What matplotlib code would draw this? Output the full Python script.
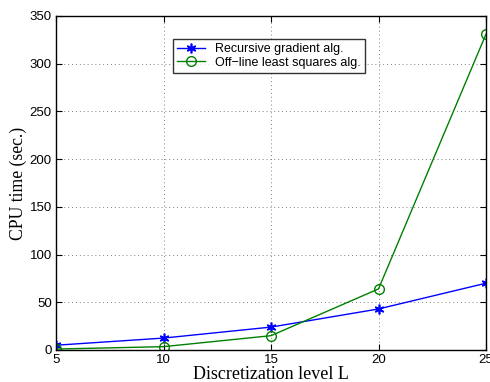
import matplotlib
matplotlib.use("Agg")
import matplotlib.pyplot as plt

L = [5, 10, 15, 20, 25]
recursive = [5, 12.5, 24, 43, 70]
offline = [1, 3.5, 15, 64, 331]

fig = plt.figure(figsize=(4.9, 3.82), dpi=100)
ax = fig.add_axes([56/490, 1-350/382, 430/490, 334/382])
ax.plot(L, recursive, color='blue', marker=(6, 2, 0), markersize=7, markeredgewidth=1.2, linewidth=1,
        label='Recursive gradient alg.')
ax.plot(L, offline, color='green', marker='o', markersize=7, markerfacecolor='none', linewidth=1,
        label='Off\u2212line least squares alg.')
ax.set_xlim(5, 25)
ax.set_ylim(0, 350)
ax.set_xticks(L)
ax.set_yticks(range(0, 351, 50))
ax.grid(True, linestyle=(0, (1, 3)), color='gray', linewidth=0.7)
ax.tick_params(direction='in', labelsize=9.5, length=4, pad=3, top=True, right=True, labeltop=False, labelright=False)
for lab in ax.get_xticklabels() + ax.get_yticklabels():
    lab.set_family('Liberation Sans')
for s in ax.spines.values():
    s.set_linewidth(1)
ax.set_xlabel('Discretization level L', family='Liberation Serif', fontsize=13, labelpad=0)
ax.set_ylabel('CPU time (sec.)', family='Liberation Serif', fontsize=12.7, labelpad=2)
leg = ax.legend(loc='upper left', bbox_to_anchor=(0.272, 0.931), prop={'family': 'Liberation Sans', 'size': 9},
                frameon=True, fancybox=False, edgecolor='black', borderpad=0.35, labelspacing=0.1,
                handlelength=2.2, borderaxespad=0, shadow=False)
leg.get_frame().set_linewidth(1)
fig.savefig('out.png', dpi=100)
